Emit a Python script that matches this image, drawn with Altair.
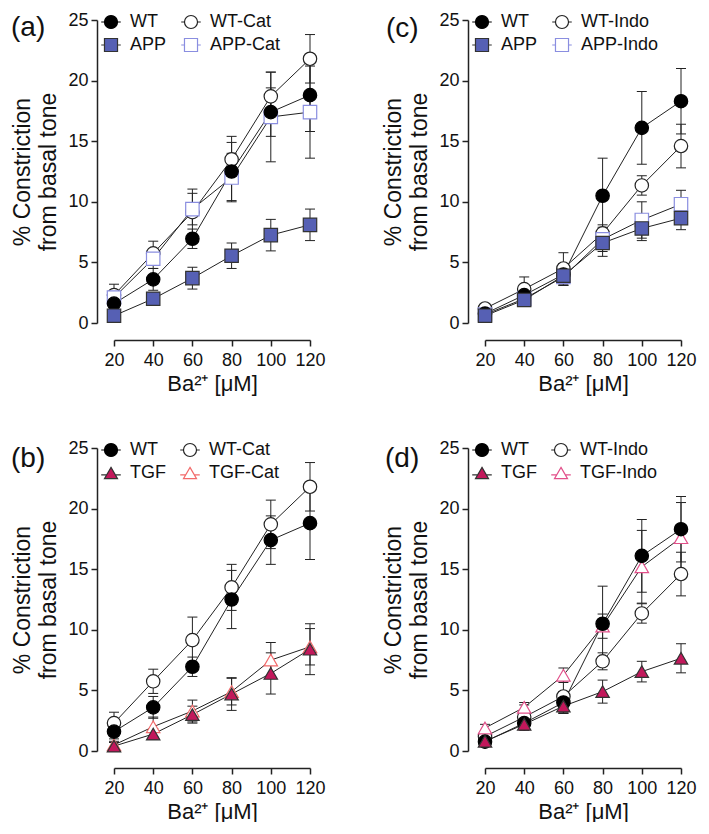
import altair as alt
import pandas as pd

FONT = "Liberation Sans"
INK = "#222222"

conc = [20, 40, 60, 80, 100, 120]
x_ticks = [20, 40, 60, 80, 100, 120]
y_ticks = [0, 5, 10, 15, 20, 25]

# --- catalase experiments (panels a, b) ---
wt_c = [1.6, 3.6, 6.95, 12.5, 17.4, 18.8]
wt_c_sem = [0.6, 0.9, 0.8, 2.4, 2.0, 3.0]
wtcat = [2.3, 5.75, 9.15, 13.5, 18.7, 21.8]
wtcat_sem = [0.9, 1.0, 1.9, 1.9, 2.0, 2.0]
app_c = [0.6, 2.0, 3.7, 5.55, 7.25, 8.1]
app_c_sem = [0.3, 0.45, 0.9, 1.05, 1.3, 1.3]
appcat = [2.1, 5.3, 9.4, 12.0, 17.0, 17.4]
appcat_sem = [0.6, 0.8, 1.3, 2.0, 3.7, 3.8]
tgf_c = [0.4, 1.4, 3.0, 4.7, 6.4, 8.4]
tgf_c_sem = [0.3, 0.45, 0.7, 1.35, 1.7, 2.1]
tgfcat = [0.5, 2.0, 3.3, 4.9, 7.5, 8.6]
tgfcat_sem = [0.3, 0.8, 0.9, 1.1, 1.45, 1.5]

# --- indomethacin experiments (panels c, d) ---
wt_i = [0.77, 2.3, 4.0, 10.5, 16.1, 18.3]
wt_i_sem = [0.4, 0.5, 0.9, 3.1, 3.0, 2.7]
wtindo = [1.2, 2.8, 4.5, 7.4, 11.35, 14.6]
wtindo_sem = [0.4, 1.0, 1.3, 0.7, 0.8, 1.8]
app_i = [0.6, 1.9, 3.9, 6.6, 7.8, 8.65]
app_i_sem = [0.2, 0.3, 0.6, 1.1, 1.0, 0.95]
appindo = [0.7, 2.0, 3.8, 6.9, 8.5, 9.8]
appindo_sem = [0.3, 0.4, 0.7, 1.0, 1.5, 1.15]
tgf_i = [0.8, 2.2, 3.7, 4.9, 6.55, 7.65]
tgf_i_sem = [0.3, 0.5, 0.6, 0.95, 0.85, 1.2]
tgfindo = [1.9, 3.6, 6.25, 10.3, 15.2, 17.6]
tgfindo_sem = [0.3, 0.4, 0.6, 1.0, 3.0, 2.9]

STYLE = {
    "WT": ("circle", "#000000", "#000000"),
    "WT-Cat": ("circle", "#ffffff", "#222222"),
    "WT-Indo": ("circle", "#ffffff", "#222222"),
    "APP": ("square", "#5660b4", "#333333"),
    "APP-Cat": ("square", "#ffffff", "#8a8ee0"),
    "APP-Indo": ("square", "#ffffff", "#8a8ee0"),
    "TGF": ("triangle-up", "#c2185b", "#333333"),
    "TGF-Cat": ("triangle-up", "#ffffff", "#f26a6a"),
    "TGF-Indo": ("triangle-up", "#ffffff", "#e2508a"),
}
LEG_PATH = {
    "circle": "M-1.5,0L-1,0M1,0L1.5,0M1,0A1,1,0,1,1,-1,0A1,1,0,1,1,1,0Z",
    "square": "M-1.5,0L-1,0M1,0L1.5,0M-1,-1L1,-1L1,1L-1,1Z",
    "triangle-up": "M-1.5,0.3L-0.67,0.3M0.67,0.3L1.5,0.3M0,-0.866L1,0.866L-1,0.866Z",
}


def panel(tag, names, vals, sems, lab_x, lab_y):
    rows = []
    order = [i for i in range(4) if STYLE[names[i]][1] == "#ffffff"] + \
            [i for i in range(4) if STYLE[names[i]][1] != "#ffffff"]
    for k, i in enumerate(order):
        for x, v, s in zip(conc, vals[i], sems[i]):
            rows.append({"series": names[i], "k": k, "x": x, "y": v,
                         "lo": v - s, "hi": v + s})
    df = pd.DataFrame(rows)
    shapes = [STYLE[n][0] for n in names]
    fills = [STYLE[n][1] for n in names]
    strokes = [STYLE[n][2] for n in names]

    xs = alt.Scale(domain=[20, 120], nice=False, zero=False)
    ys = alt.Scale(domain=[0, 25], nice=False, zero=False)
    xax = alt.Axis(values=x_ticks, format="d", offset=17, tickSize=6, labelPadding=5,
                   labelFontSize=18, labelFont=FONT, labelColor="#111",
                   title="Ba²⁺ [μM]", titleFontSize=22, titleFont=FONT,
                   titleFontWeight="normal", titleColor="#111", titlePadding=4,
                   grid=False, domainColor=INK, tickColor=INK, domainWidth=1.5,
                   tickWidth=1.5, labelFlush=False)
    yax = alt.Axis(values=y_ticks, format="d", offset=17, tickSize=6, labelPadding=3,
                   labelFontSize=18, labelFont=FONT, labelColor="#111",
                   title=["% Constriction", "from basal tone"], titleFontSize=23,
                   titleFont=FONT, titleFontWeight="normal", titleColor="#111",
                   titlePadding=7, titleLineHeight=26, grid=False,
                   domainColor=INK, tickColor=INK, domainWidth=1.5, tickWidth=1.5)
    X = alt.X("x:Q", scale=xs, axis=xax)

    def Y(f):
        return alt.Y(f, type="quantitative", scale=ys, axis=yax)

    base = alt.Chart(df)
    err = base.mark_rule(color=INK, strokeWidth=1).encode(x=X, y=Y("lo"), y2="hi:Q")
    cap_lo = base.mark_tick(orient="horizontal", size=10, thickness=1, color=INK,
                            opacity=1).encode(x=X, y=Y("lo"))
    cap_hi = base.mark_tick(orient="horizontal", size=10, thickness=1, color=INK,
                            opacity=1).encode(x=X, y=Y("hi"))
    line = base.mark_line(color=INK, strokeWidth=1).encode(
        x=X, y=Y("y"), detail="series:N", order="x:Q")
    pts = base.mark_point(filled=True, size=180, opacity=1, strokeWidth=1.2).encode(
        x=X, y=Y("y"),
        shape=alt.Shape("series:N", scale=alt.Scale(domain=names, range=shapes), legend=None),
        fill=alt.Fill("series:N", scale=alt.Scale(domain=names, range=fills), legend=None),
        stroke=alt.Stroke("series:N", scale=alt.Scale(domain=names, range=strokes), legend=None),
        order=alt.Order("k:Q"),
    )
    leg = alt.Legend(orient="none", legendX=-12, legendY=-7, columns=2, direction="horizontal",
                     columnPadding=11, rowPadding=5, labelFontSize=18, labelFont=FONT,
                     labelColor="#111", labelOffset=10, symbolSize=170,
                     symbolStrokeWidth=1.2, title=None, padding=0)
    legend_layer = base.transform_filter("false").mark_point(
        filled=True, opacity=1, strokeWidth=1.2).encode(
        x=X, y=Y("y"),
        shape=alt.Shape("series:N", scale=alt.Scale(domain=names,
                        range=[LEG_PATH[s] for s in shapes]), legend=leg),
        fill=alt.Fill("series:N", scale=alt.Scale(domain=names, range=fills), legend=leg),
        stroke=alt.Stroke("series:N", scale=alt.Scale(domain=names, range=strokes), legend=leg),
    )
    label = alt.Chart(pd.DataFrame({"t": [tag]})).mark_text(
        align="left", baseline="middle", fontSize=28, font=FONT, color="#111").encode(
        text="t:N", x=alt.value(lab_x), y=alt.value(lab_y))

    return alt.layer(err, cap_lo, cap_hi, line, pts, legend_layer, label).resolve_scale(
        shape="independent", fill="independent", stroke="independent"
    ).properties(width=196, height=303)


pa = panel("(a)", ["WT", "WT-Cat", "APP", "APP-Cat"],
           [wt_c, wtcat, app_c, appcat], [wt_c_sem, wtcat_sem, app_c_sem, appcat_sem], -103, 8)
pc = panel("(c)", ["WT", "WT-Indo", "APP", "APP-Indo"],
           [wt_i, wtindo, app_i, appindo], [wt_i_sem, wtindo_sem, app_i_sem, appindo_sem], -99, 9)
pb = panel("(b)", ["WT", "WT-Cat", "TGF", "TGF-Cat"],
           [wt_c, wtcat, tgf_c, tgfcat], [wt_c_sem, wtcat_sem, tgf_c_sem, tgfcat_sem], -103, 11)
pd_ = panel("(d)", ["WT", "WT-Indo", "TGF", "TGF-Indo"],
            [wt_i, wtindo, tgf_i, tgfindo], [wt_i_sem, wtindo_sem, tgf_i_sem, tgfindo_sem], -100, 11)

chart = alt.concat(pa, pc, pb, pd_, columns=2,
                   spacing=alt.RowColnumber(row=125, column=175), bounds="flush").properties(
    padding={"left": 3, "top": 3, "right": 0, "bottom": 0}
).configure(font=FONT).configure_view(stroke=None)

chart.save("out.html", embed_options={"renderer": "svg", "actions": False})
